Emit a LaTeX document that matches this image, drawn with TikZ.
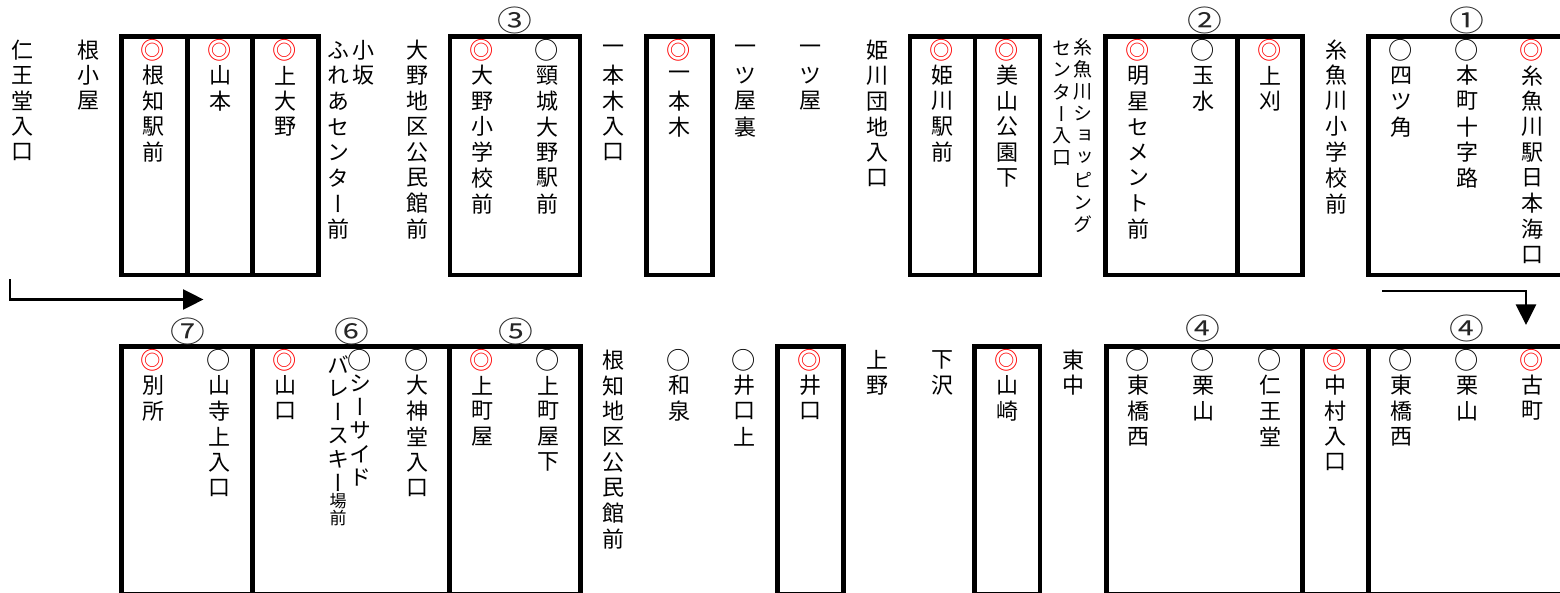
\documentclass[tikz,border=0pt]{standalone}
\usepackage{fontspec}
\usepackage{graphicx}
\usetikzlibrary{arrows.meta}
\newfontfamily\cjk[RawFeature=+vert]{Noto Sans CJK JP}
\newfontfamily\cjkh{Noto Sans CJK JP}
\newcommand\dm{\textcolor{red}{\scalebox{1.1}{◎}}}
\newcommand\wc{\scalebox{1.1}{○}}
\newcommand\vcol[6][ch]{%
  \foreach \zz [count=\ii] in {#6} {\node[#1] (#2-\ii) at (#3, {#4+(\ii-1)*#5}) {\zz};}}
\newcommand\cnum[1]{\scalebox{1.2}[1]{#1}}
\tikzset{
  ch/.style={inner sep=0pt, font=\cjk\fontsize{22}{22}\selectfont},
  chs/.style={inner sep=0pt, font=\cjk\fontsize{19}{19}\selectfont},
  chx/.style={inner sep=0pt, font=\cjk\fontsize{17}{17}\selectfont},
  num/.style={inner sep=0pt, font=\cjkh\fontsize{29}{29}\selectfont, text=black!85},
  box/.style={line width=4.6pt, draw=black},
  flow/.style={line width=2.5pt, draw=black, -{Triangle[length=20.5pt,width=20pt]}},
}
\begin{document}
\begin{tikzpicture}[x=1pt,y=-1pt]
\useasboundingbox (0,0) rectangle (1560,593);
\clip (0,0) rectangle (1560,593);
\fill[white] (0,0) rectangle (1560,593);
% ---- top row boxes
\draw[box] (121.7,36.7) rectangle (318.3,275);
\draw[box] (187.3,36.7) -- (187.3,275);
\draw[box] (252.3,36.7) -- (252.3,275);
\draw[box] (450,36.7) rectangle (580,275);
\draw[box] (646.7,36.7) rectangle (712.3,275);
\draw[box] (910,36.7) rectangle (1040,275);
\draw[box] (975,36.7) -- (975,275);
\draw[box] (1105.7,36.7) rectangle (1302.3,275);
\draw[box] (1237.7,36.7) -- (1237.7,275);
\draw[box] (1368.3,36.7) rectangle (1600,275);
% ---- bottom row boxes
\draw[box] (121.7,346.7) rectangle (580.3,594);
\draw[box] (252.3,346.7) -- (252.3,594);
\draw[box] (449.3,346.7) -- (449.3,594);
\draw[box] (777.7,346.7) rectangle (843.3,594);
\draw[box] (974.7,346.7) rectangle (1040,594);
\draw[box] (1106.3,346.7) rectangle (1600,594);
\draw[box] (1302.3,346.7) -- (1302.3,594);
\draw[box] (1368.3,346.7) -- (1368.3,594);
% ---- circled numbers
\node[num] (n3) at (515,20) {\cnum{③}};
\node[num] (n2) at (1205,20) {\cnum{②}};
\node[num] (n1) at (1467,20) {\cnum{①}};
\node[num] (n7) at (188,331.7) {\cnum{⑦}};
\node[num] (n6) at (352,331.7) {\cnum{⑥}};
\node[num] (n5) at (516,331.7) {\cnum{⑤}};
\node[num] (n4a) at (1203,328.3) {\cnum{④}};
\node[num] (n4b) at (1467,328.3) {\cnum{④}};
% ---- flow arrows
\coordinate (a1) at (10,279.5);
\coordinate (a2) at (10,299.5);
\coordinate (a3) at (203.5,299.5);
\draw[flow] (a1) -- (a2) -- (a3);
\coordinate (c1) at (1382.3,291);
\coordinate (c2) at (1526,291);
\coordinate (c3) at (1526,325);
\draw[flow] (c1) -- (c2) -- (c3);
% ---- top row stops
\vcol{t1}{23}{50}{25.6}{仁,王,堂,入,口}
\vcol{t2}{88}{50}{25.6}{根,小,屋}
\vcol{t3}{153}{50}{25.6}{\dm,根,知,駅,前}
\vcol{t4}{220}{50}{25.6}{\dm,山,本}
\vcol{t5}{285}{50}{25.6}{\dm,上,大,野}
\vcol{t6a}{363}{50}{25.6}{小,坂}
\vcol{t6b}{338}{50}{25.6}{ふ,れ,あ,セ,ン,タ,ー,前}
\vcol{t7}{417}{50}{25.6}{大,野,地,区,公,民,館,前}
\vcol{t8}{482}{50}{25.6}{\dm,大,野,小,学,校,前}
\vcol{t9}{547}{50}{25.6}{\wc,頸,城,大,野,駅,前}
\vcol{t10}{613}{50}{25.6}{一,本,木,入,口}
\vcol{t11}{679}{50}{25.6}{\dm,一,本,木}
\vcol{t12}{745}{50}{25.6}{一,ツ,屋,裏}
\vcol{t13}{810}{50}{25.6}{一,ツ,屋}
\vcol{t14}{877}{50}{25.6}{姫,川,団,地,入,口}
\vcol{t15}{942}{50}{25.6}{\dm,姫,川,駅,前}
\vcol{t16}{1007}{50}{25.6}{\dm,美,山,公,園,下}
\vcol[chs]{t17a}{1083}{47}{22.2}{糸,魚,川,シ,ョ,ッ,ピ,ン,グ}
\vcol[chs]{t17b}{1062}{48}{22}{セ,ン,タ,ー,入,口}
\vcol{t18}{1138}{50}{25.6}{\dm,明,星,セ,メ,ン,ト,前}
\vcol{t19}{1203}{50}{25.6}{\wc,玉,水}
\vcol{t20}{1270}{50}{25.6}{\dm,上,刈}
\vcol{t21}{1336}{50}{25.6}{糸,魚,川,小,学,校,前}
\vcol{t22}{1401}{50}{25.6}{\wc,四,ツ,角}
\vcol{t23}{1467}{50}{25.6}{\wc,本,町,十,字,路}
\vcol{t24}{1532}{50}{25.6}{\dm,糸,魚,川,駅,日,本,海,口}
% ---- bottom row stops
\vcol{b1}{153}{360}{25.6}{\dm,別,所}
\vcol{b2}{219}{360}{25.6}{\wc,山,寺,上,入,口}
\vcol{b3}{285}{360}{25.6}{\dm,山,口}
\vcol{b4a}{360}{360}{23.5}{\wc,シ,ー,サ,イ,ド}
\vcol{b4b}{338}{365}{23.6}{バ,レ,ー,ス,キ,ー}
\vcol[chx]{b4c}{338}{501}{17}{場,前}
\vcol{b5}{417}{360}{25.6}{\wc,大,神,堂,入,口}
\vcol{b6}{482}{360}{25.6}{\dm,上,町,屋}
\vcol{b7}{548}{360}{25.6}{\wc,上,町,屋,下}
\vcol{b8}{613}{360}{25.6}{根,知,地,区,公,民,館,前}
\vcol{b9}{679}{360}{25.6}{\wc,和,泉}
\vcol{b10}{744}{360}{25.6}{\wc,井,口,上}
\vcol{b11}{810}{360}{25.6}{\dm,井,口}
\vcol{b12}{877}{360}{25.6}{上,野}
\vcol{b13}{942}{360}{25.6}{下,沢}
\vcol{b14}{1007}{360}{25.6}{\dm,山,崎}
\vcol{b15}{1073}{360}{25.6}{東,中}
\vcol{b16}{1138}{360}{25.6}{\wc,東,橋,西}
\vcol{b17}{1203}{360}{25.6}{\wc,栗,山}
\vcol{b18}{1270}{360}{25.6}{\wc,仁,王,堂}
\vcol{b19}{1335}{360}{25.6}{\dm,中,村,入,口}
\vcol{b20}{1401}{360}{25.6}{\wc,東,橋,西}
\vcol{b21}{1467}{360}{25.6}{\wc,栗,山}
\vcol{b22}{1532}{360}{25.6}{\dm,古,町}
\end{tikzpicture}
\end{document}
